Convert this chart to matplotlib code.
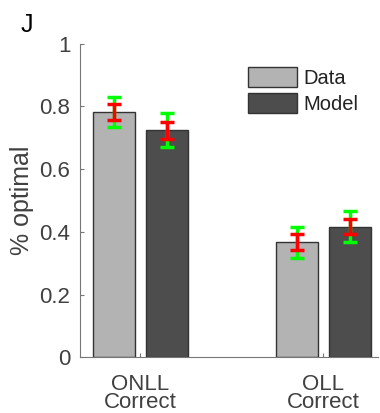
import matplotlib.pyplot as plt
import numpy as np

plt.rcParams['font.family'] = ['Liberation Sans', 'DejaVu Sans']

# data
groups = ["ONLL\nCorrect", "OLL\nCorrect"]
data_mean = [0.782, 0.367]
model_mean = [0.724, 0.417]
data_sem = [0.025, 0.026]
model_sem = [0.027, 0.025]
data_ci = [0.048, 0.050]
model_ci = [0.054, 0.049]

fig = plt.figure(figsize=(3.8, 4.13), dpi=100)
ax = fig.add_axes([0.2105, 0.135, 0.785, 0.759])

x = np.arange(1, len(groups) + 1)
w = 0.23
off = 0.145

ax.bar(x - off, data_mean, w, color='#b3b3b3', edgecolor='#333333', linewidth=1, label='Data', zorder=2)
ax.bar(x + off, model_mean, w, color='#4d4d4d', edgecolor='#333333', linewidth=1, label='Model', zorder=2)

for xs, m, ci, se in [(x - off, data_mean, data_ci, data_sem), (x + off, model_mean, model_ci, model_sem)]:
    ax.errorbar(xs, m, yerr=ci, fmt='none', ecolor='#00ff00', elinewidth=2.5, capsize=5, capthick=2.5, zorder=3)
    ax.errorbar(xs, m, yerr=se, fmt='none', ecolor='#ff0000', elinewidth=2.5, capsize=5, capthick=2.5, zorder=4)

ax.set_xlim(0.67, 2.3)
ax.set_ylim(0, 1)
ax.set_yticks([0, 0.2, 0.4, 0.6, 0.8, 1])
ax.set_yticklabels(['0', '0.2', '0.4', '0.6', '0.8', '1'])
ax.set_xticks(x)
ax.set_xticklabels(groups, linespacing=0.8)
ax.tick_params(direction='in', length=3, colors='#777777', labelsize=16, labelcolor='#404040')
ax.tick_params(axis='y', pad=7)
ax.tick_params(axis='x', pad=12)
ax.spines['top'].set_visible(False)
ax.spines['right'].set_visible(False)
for s in ['left', 'bottom']:
    ax.spines[s].set_color('#777777')
ax.set_ylabel('% optimal', fontsize=18, color='#404040', labelpad=4)

leg = ax.legend(loc='upper left', bbox_to_anchor=(0.652, 0.838), bbox_transform=fig.transFigure,
                frameon=False, fontsize=14.5, handlelength=2.45, handleheight=1.15,
                handletextpad=0.3, labelspacing=0.25, borderaxespad=0, borderpad=0)
for t in leg.get_texts():
    t.set_color('#222222')

fig.text(0.055, 0.922, 'J', fontsize=18, color='black')

plt.savefig('out.png', dpi=100)
